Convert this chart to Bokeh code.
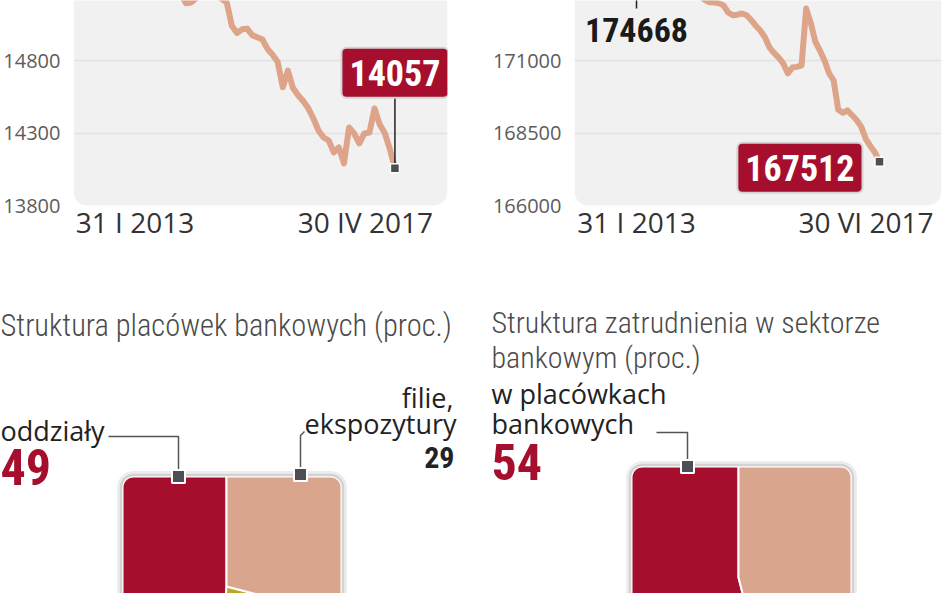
import numpy as np
from bokeh.plotting import figure
from bokeh.layouts import column, row
from bokeh.models import Range1d, FixedTicker, Label, BoxAnnotation, ColumnDataSource
from bokeh.embed import file_html
from bokeh.resources import INLINE

# ---------------- data ----------------
branches_start_label = "31 I 2013"
branches_end_label = "30 IV 2017"
branches = [15620, 15600, 15580, 15560, 15520, 15480, 15440, 15390, 15330, 15260,
            15195, 15200, 15230, 15260, 15280, 15270, 15250, 15225, 15200, 15040,
            14990, 15015, 15020, 14975, 14960, 14945, 14880, 14840, 14790, 14615,
            14730, 14610, 14560, 14520, 14470, 14400, 14317, 14269, 14248, 14166,
            14200, 14090, 14338, 14297, 14228, 14297, 14303, 14469, 14360, 14300,
            14190, 14057]
branches_ticks = [13800, 14300, 14800]
branches_tick_labels = ["13800", "14300", "14800"]

employment_start_label = "31 I 2013"
employment_end_label = "30 VI 2017"
employment = [174668, 174600, 174500, 174350, 174250, 174150, 174000, 173900, 173800, 173700,
              173600, 173500, 173400, 173300, 173200, 173080, 173010, 173000, 172970, 172900,
              172655, 172560, 172580, 172620, 172560, 172400, 172200, 172034, 171800, 171450,
              171260, 171100, 170900, 170560, 170758, 170780, 170830, 172790, 172300, 171650,
              171345, 171000, 170560, 170310, 169300, 169200, 169280, 169120, 168950, 168720,
              168300, 168050, 167830, 167512]
employment_ticks = [166000, 168500, 171000]
employment_tick_labels = ["166000", "168500", "171000"]

outlet_title = "Struktura placówek bankowych (proc.)"
outlet_categories = ["oddziały", "inne", "filie, ekspozytury"]
outlet_shares = [49, 22, 29]

staff_title = ["Struktura zatrudnienia w sektorze", "bankowym (proc.)"]
staff_categories = ["w placówkach bankowych", "w centralach"]
staff_shares = [54, 46]

# ---------------- style ----------------
NARROW = "'Roboto Condensed', 'DejaVu Sans Condensed', 'Liberation Sans Narrow', Roboto"
LIGHT = "'Roboto Condensed Light', 'Roboto Condensed', 'DejaVu Sans Condensed', 'Liberation Sans Narrow', Roboto"
SANS = "Open Sans"
RED = "#a50f2d"
PINK = "#d9a58c"
OLIVE = "#bba52a"
LINE = "#dea48a"
MARK = "#4b4e53"
BG = "#f1f1f1"
PAD = dict(left=8, right=8, top=12, bottom=12)


def line_panel(vals, ticks, tick_labels, start_label, end_label, px_per_month,
               pad_left_px, pad_right_px, val_per_px, ml, mr, end_dx):
    n = len(vals) - 1
    months = np.arange(len(vals))
    y_lo = ticks[0] - 95 * val_per_px
    y_hi = ticks[0] + 205 * val_per_px
    x_lo = -pad_left_px / px_per_month
    x_hi = n + pad_right_px / px_per_month
    p = figure(width=474, height=300, x_range=Range1d(x_lo, x_hi), y_range=Range1d(y_lo, y_hi),
               output_backend="svg", toolbar_location=None, x_axis_location=None,
               min_border_left=ml, min_border_right=mr, min_border_top=0, min_border_bottom=0)
    p.outline_line_color = None
    p.background_fill_color = "white"
    p.border_fill_color = "white"
    p.add_layout(BoxAnnotation(left=x_lo, right=x_hi, bottom=ticks[0], top=y_hi + 50 * val_per_px,
                               fill_color=BG, fill_alpha=1, line_color=None,
                               border_radius=dict(top_left=0, top_right=0, bottom_right=14, bottom_left=14),
                               level="image"))
    p.xgrid.visible = False
    p.ygrid.ticker = FixedTicker(ticks=ticks[1:])
    p.ygrid.grid_line_color = "#e2e2e2"
    p.ygrid.grid_line_width = 1.5
    ya = p.yaxis[0]
    ya.ticker = FixedTicker(ticks=ticks, minor_ticks=[])
    ya.major_label_overrides = {t: l for t, l in zip(ticks, tick_labels)}
    ya.axis_line_color = None
    ya.major_tick_line_color = None
    ya.minor_tick_line_color = None
    ya.major_label_standoff = 7
    ya.major_label_text_font = SANS
    ya.major_label_text_font_size = "20px"
    ya.major_label_text_color = "#5c5c5c"
    p.line(months, vals, line_width=6, color=LINE, line_cap="round", line_join="round")
    p.add_layout(Label(x=0, y=ticks[0], text=start_label, text_align="center", text_baseline="alphabetic",
                       y_offset=-16, text_font=SANS, text_font_size="28px", text_color="#333333"))
    p.add_layout(Label(x=n, y=ticks[0], text=end_label, text_align="right", text_baseline="alphabetic",
                       x_offset=end_dx, y_offset=-16, text_font=SANS, text_font_size="28px",
                       text_color="#333333"))
    return p


# ---- top left: branches
vpp = 500 / 72.5
pl = line_panel(branches, branches_ticks, branches_tick_labels, branches_start_label,
                branches_end_label, 262 / 51, 62, 53, vpp, 70, 27, 38)
nl = len(branches) - 1
pl.segment(x0=[nl], y0=[branches[-1]], x1=[nl], y1=[branches[-1] + 71 * vpp], line_color="#222222", line_width=1.5)
pl.scatter(x=[nl], y=[branches[-1]], marker="square", size=9, fill_color=MARK, line_color="white", line_width=1.5)
pl.add_layout(Label(x=nl, y=branches[-1], text=str(branches[-1]), text_align="center", text_baseline="middle",
                    y_offset=95.5, text_font=NARROW, text_font_style="bold", text_font_size="36px",
                    text_color="white", background_fill_color=RED, border_line_color="#d4d4d4",
                    border_line_width=2, border_radius=5, padding=PAD))

# ---- top right: employment
vpp_r = 2500 / 72.5
pr = line_panel(employment, employment_ticks, employment_tick_labels, employment_start_label,
                employment_end_label, 243 / 53, 62, 62, vpp_r, 100, 7, 54)
nr = len(employment) - 1
pr.segment(x0=[0], y0=[employment[0]], x1=[0], y1=[employment_ticks[0] + (205 - 8) * vpp_r],
           line_color="#222222", line_width=1.5)
pr.scatter(x=[nr], y=[employment[-1]], marker="square", size=9, fill_color=MARK, line_color="white", line_width=1.5)
pr.add_layout(Label(x=0, y=employment_ticks[0] + (205 - 29) * vpp_r, text=str(employment[0]), text_align="center",
                    text_baseline="alphabetic", text_font=NARROW, text_font_style="bold", text_font_size="34px",
                    text_color="#1a1a1a"))
pr.add_layout(Label(x=nr, y=employment[-1], text=str(employment[-1]), text_align="right", text_baseline="middle",
                    x_offset=-17, y_offset=-6, text_font=NARROW, text_font_style="bold", text_font_size="36px",
                    text_color="white", background_fill_color=RED, border_line_color="#d4d4d4",
                    border_line_width=2, border_radius=5, padding=PAD))


# ---------------- pie panels ----------------
def b(py):
    return 593 - py


def rsq(x0, x1, y0, y1, r, n=10):
    xs, ys = [], []
    for cx, cy, a0 in [(x1 - r, y1 - r, 0), (x0 + r, y1 - r, 90), (x0 + r, y0 + r, 180), (x1 - r, y0 + r, 270)]:
        for t in np.linspace(np.radians(a0), np.radians(a0 + 90), n):
            xs.append(cx + r * np.cos(t))
            ys.append(cy + r * np.sin(t))
    return xs, ys


def pie_panel(x0page, shares, colors, center, square):
    p = figure(width=474, height=293, x_range=Range1d(x0page, x0page + 474), y_range=Range1d(0, 293),
               output_backend="svg", toolbar_location=None, x_axis_location=None, y_axis_location=None,
               min_border=0)
    p.outline_line_color = None
    p.xgrid.visible = False
    p.ygrid.visible = False
    frac = np.array(shares, dtype=float) / np.sum(shares)
    cum = np.concatenate([[0], np.cumsum(frac)])
    src = ColumnDataSource(dict(start=np.pi / 2 + 2 * np.pi * cum[:-1], end=np.pi / 2 + 2 * np.pi * cum[1:],
                                color=colors))
    p.wedge(x=center[0], y=center[1], radius=200, start_angle="start", end_angle="end",
            fill_color="color", line_color="white", line_width=2, source=src)
    sx0, sx1, sy0, sy1 = square
    hx, hy = rsq(sx0, sx1, sy0, sy1, 10)
    ox = [x0page - 50, x0page + 530, x0page + 530, x0page - 50]
    oy = [-500, -500, 500, 500]
    p.multi_polygons(xs=[[[ox, hx]]], ys=[[[oy, hy]]], fill_color="white", line_color=None)
    sx, sy = rsq(sx0 - 5, sx1 + 5, sy0 - 5, sy1 + 5, 15)
    p.line(sx + sx[:1], sy + sy[:1], line_color="#ededed", line_width=3)
    bx, by = rsq(sx0 - 2.5, sx1 + 2.5, sy0 - 2.5, sy1 + 2.5, 12.5)
    p.line(bx + bx[:1], by + by[:1], line_color="#d2d2d2", line_width=2.5)
    return p


def txt(p, x, py, text, font, size, color, style="normal", align="left"):
    # py is the wanted baseline (page px); compensate the renderer's baseline offset
    sz = float(size.replace("px", ""))
    p.add_layout(Label(x=x, y=b(py - 0.38 * sz), text=text, text_font=font, text_font_size=size,
                       text_color=color, text_font_style=style, text_align=align,
                       text_baseline="alphabetic"))


# ---- bottom left: outlets
pbl = pie_panel(0, outlet_shares, [RED, OLIVE, PINK], (226, b(586)), (123, 340, b(694), b(477)))
pbl.line([108, 178, 178], [b(436), b(436), b(470)], line_color="#555555", line_width=1.5)
pbl.line([304, 300, 300], [b(431), b(435), b(470)], line_color="#555555", line_width=1.5)
pbl.scatter(x=[178, 300], y=[b(476), b(474)], marker="square", size=13, fill_color=MARK,
            line_color="white", line_width=2)
txt(pbl, 0, 337, outlet_title, LIGHT, "30.5px", "#4a4a4a")
txt(pbl, 0, 440, outlet_categories[0], SANS, "27px", "#222222")
txt(pbl, 0, 485, str(outlet_shares[0]), NARROW, "50px", RED, "bold")
fe = outlet_categories[2].split(" ")
txt(pbl, 453, 407, fe[0], SANS, "27px", "#222222", align="right")
txt(pbl, 456, 433, fe[1], SANS, "27px", "#222222", align="right")
txt(pbl, 454, 468, str(outlet_shares[2]), NARROW, "30px", "#222222", "bold", "right")

# ---- bottom right: staff
pbr = pie_panel(474, staff_shares, [RED, PINK], (738, b(577)), (632, 850, b(685), b(467)))
pbr.line([656, 687, 687], [b(432), b(432), b(460)], line_color="#555555", line_width=1.5)
pbr.scatter(x=[687], y=[b(466)], marker="square", size=13, fill_color=MARK, line_color="white", line_width=2)
txt(pbr, 491, 333, staff_title[0], LIGHT, "30px", "#4a4a4a")
txt(pbr, 491, 368, staff_title[1], LIGHT, "30px", "#4a4a4a")
wp = staff_categories[0].rsplit(" ", 1)
txt(pbr, 491, 403, wp[0], SANS, "27px", "#222222")
txt(pbr, 491, 433, wp[1], SANS, "27px", "#222222")
txt(pbr, 491, 480, str(staff_shares[0]), NARROW, "50px", RED, "bold")

layout = column(row(pl, pr), row(pbl, pbr))
open("out.html", "w").write(file_html(layout, INLINE))
